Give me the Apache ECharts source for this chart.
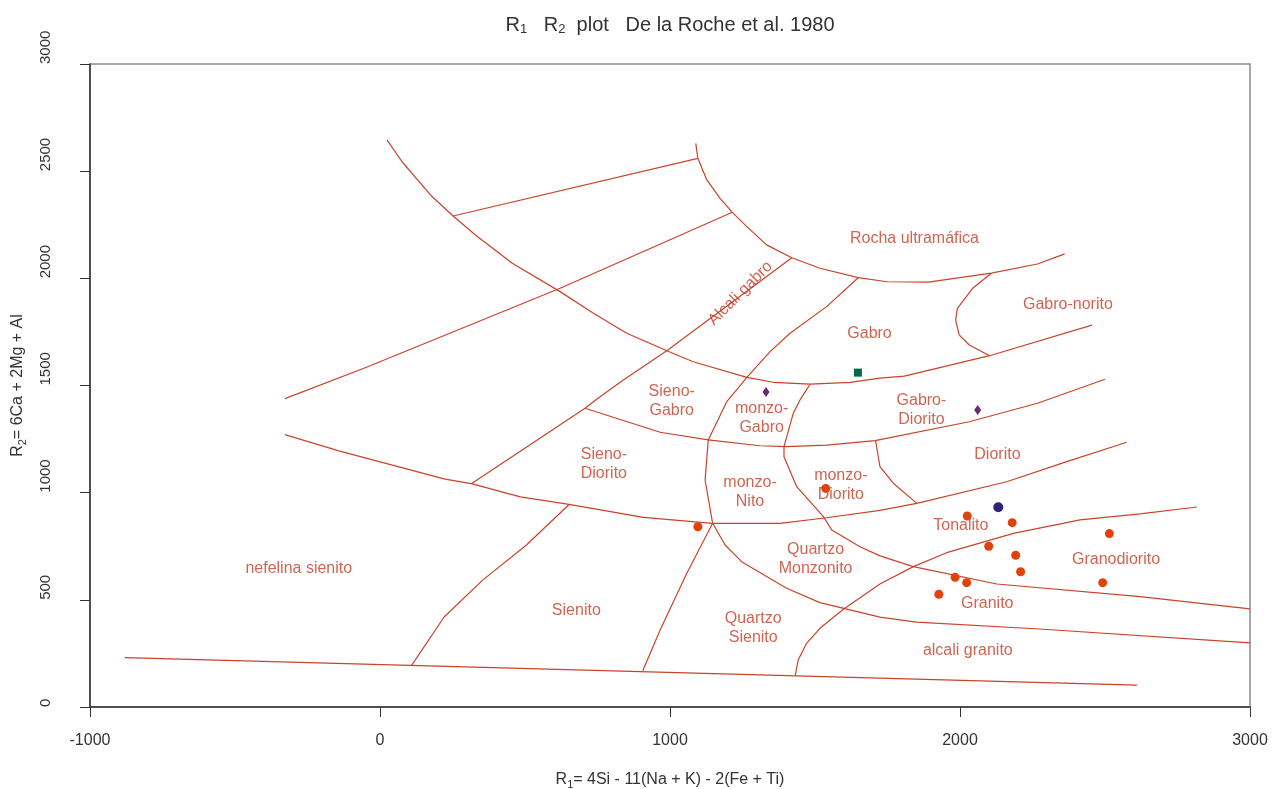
<!DOCTYPE html>
<html>
<head>
<meta charset="utf-8">
<script src="https://cdn.jsdelivr.net/npm/echarts@6/dist/echarts.min.js"></script>
<style>
html,body{margin:0;padding:0;background:#fff;}
#chart{width:1272px;height:789px;}
</style>
</head>
<body>
<div id="chart"></div>
<script>
// ---- axis ticks ----
const xTicks = [-1000, 0, 1000, 2000, 3000];
const yTicks = [0, 500, 1000, 1500, 2000, 2500, 3000];

// ---- field boundaries (R1, R2) ----
const lineA = [[-880,230],[2610,102]];
const lineB = [[108,192],[221,420],[355,593],[505,756],[652,945]];
const lineC = [[-328,1271],[-142,1195],[224,1063],[315,1042],[484,980],[652,945],[908,885],[1147,857],[1379,857],[1540,883],[1724,917],[1851,950],[2161,1051],[2368,1145],[2575,1235]];
const lineD = [[-328,1439],[-51,1583],[621,1954],[1215,2308]];
const lineE = [[252,2291],[1096,2560]];
const lineF = [[24,2646],[76,2544],[174,2389],[252,2291],[329,2202],[456,2070],[621,1938],[736,1837],[851,1744],[989,1662],[1080,1611],[1265,1538],[1356,1515],[1483,1506],[1621,1515],[1724,1534],[1808,1544],[2102,1639],[2455,1782]];
const lineR = [[1089,2630],[1096,2560],[1127,2459],[1172,2374],[1215,2308],[1265,2241],[1333,2156],[1420,2096],[1517,2047],[1649,2003],[1749,1984],[1891,1982],[2108,2024],[2267,2067],[2361,2114]];
const lineG = [[315,1042],[707,1394],[747,1436],[839,1526],[989,1662],[1420,2096]];
const lineSG = [[707,1394],[966,1282],[1132,1246],[1310,1219],[1402,1215],[1540,1222],[1707,1243],[2032,1331],[2267,1417],[2500,1529]];
const lineH = [[1649,2003],[1540,1868],[1414,1744],[1345,1658],[1265,1538],[1196,1425],[1132,1246],[1121,1059],[1147,857],[1058,624],[966,359],[906,169]];
const lineI = [[2108,2024],[2044,1954],[1991,1860],[1985,1806],[1997,1736],[2032,1689],[2102,1639]];
const lineK = [[1709,1241],[1724,1121],[1770,1044],[1851,950]];
const lineL = [[1483,1506],[1448,1432],[1425,1370],[1393,1215],[1393,1168],[1437,1028],[1529,888],[1558,826],[1655,748],[1724,705],[1839,655],[2127,574],[2621,515],[3000,458]];
const lineM = [[1147,857],[1190,756],[1247,678],[1402,554],[1517,487],[1724,419],[1850,396],[2274,364],[3000,299]];
const lineN = [[2817,933],[2621,901],[2414,873],[2184,810],[1954,720],[1839,655],[1724,574],[1598,456],[1517,367],[1471,297],[1442,219],[1432,149]];

// ---- samples ----
const orangeSamples = [[1537,1020],[1096,841],[2025,891],[2180,860],[2515,809],[2099,750],[2192,708],[2209,631],[1983,605],[2023,580],[2492,580],[1927,526]];
const navySamples = [[2132,932]];
const purpleSamples = [[1331,1470],[2061,1386]];
const greenSamples = [[1648,1560]];

// ---- field names ----
const fieldLabels = [
  [1843,2187,'Rocha ultramáfica'],
  [2372,1876,'Gabro-norito'],
  [1688,1744,'Gabro'],
  [1006,1429,'Sieno-\nGabro'],
  [1316,1347,'monzo-\nGabro'],
  [1867,1383,'Gabro-\nDiorito'],
  [2129,1176,'Diorito'],
  [772,1134,'Sieno-\nDiorito'],
  [1276,1005,'monzo-\nNito'],
  [1589,1033,'monzo-\nDiorito'],
  [2003,846,'Tonalito'],
  [1502,691,'Quartzo\nMonzonito'],
  [2538,689,'Granodiorito'],
  [2094,484,'Granito'],
  [1287,370,'Quartzo\nSienito'],
  [2027,263,'alcali granito'],
  [677,450,'Sienito'],
  [-280,648,'nefelina sienito']
];
const rotatedLabels = [[1243,1930,'Alcali gabro']];

const LINE_COLOR = '#c8432b';
const TEXT_RED = '#c23d25';
const FONT = 'Liberation Sans, Arial, sans-serif';

const boundaries = [lineA,lineB,lineC,lineD,lineE,lineF,lineR,lineG,lineSG,lineH,lineI,lineK,lineL,lineM,lineN];

const series = boundaries.map(function(d){
  return {
    type:'line', data:d, showSymbol:false, symbol:'none', smooth:false,
    lineStyle:{color:LINE_COLOR, width:1.2}, z:2, silent:true
  };
});

series.push({
  type:'scatter', data:fieldLabels, symbolSize:1, itemStyle:{color:'rgba(0,0,0,0)'}, z:3, silent:true,
  label:{show:true, position:'inside', formatter:function(p){return p.value[2];},
    color:TEXT_RED, fontSize:16, lineHeight:19, align:'center', fontFamily:FONT}
});
series.push({
  type:'scatter', data:rotatedLabels, symbolSize:1, itemStyle:{color:'rgba(0,0,0,0)'}, z:3, silent:true,
  label:{show:true, position:'inside', rotate:45, formatter:function(p){return p.value[2];},
    color:TEXT_RED, fontSize:16, align:'center', fontFamily:FONT}
});
series.push({type:'scatter', data:orangeSamples, symbol:'circle', symbolSize:9, itemStyle:{color:'#e0420c', opacity:1}, z:5});
series.push({type:'scatter', data:navySamples, symbol:'circle', symbolSize:10, itemStyle:{color:'#2f2277', opacity:1}, z:5});
series.push({type:'scatter', data:purpleSamples, symbol:'diamond', symbolSize:[7,10], itemStyle:{color:'#6b2a78', opacity:1}, z:5});
series.push({type:'scatter', data:greenSamples, symbol:'rect', symbolSize:8, itemStyle:{color:'#006b45', opacity:1}, z:5});

const plain = function(v){ return String(v); };

const chart = echarts.init(document.getElementById('chart'));
chart.setOption({
  animation:false,
  backgroundColor:'#fff',
  textStyle:{fontFamily:FONT},
  title:{
    text:'{a|R}{s|1}{a|   R}{s|2}{a|  plot   De la Roche et al. 1980}',
    left:665, top:9, textAlign:'center',
    textStyle:{fontWeight:'normal', rich:{
      a:{fontSize:20, color:'#333', fontWeight:'normal', fontFamily:FONT},
      s:{fontSize:13, color:'#333', fontWeight:'normal', padding:[9,0,0,0], fontFamily:FONT}
    }}
  },
  grid:{left:90, right:22, top:64, bottom:82, show:true, borderColor:'#8a8a8a', borderWidth:1.5,
        containLabel:false, outerBoundsMode:'none'},
  xAxis:{
    type:'value', min:xTicks[0], max:xTicks[xTicks.length-1], interval:1000,
    name:'{a|R}{s|1}{a|= 4Si - 11(Na + K) - 2(Fe + Ti)}',
    nameLocation:'middle', nameGap:63,
    nameTextStyle:{rich:{
      a:{fontSize:16, color:'#333'},
      s:{fontSize:11, color:'#333', padding:[9,0,0,0]}
    }},
    axisLine:{show:true, onZero:false, lineStyle:{color:'#333', width:1.5}},
    axisTick:{show:true, length:10, lineStyle:{color:'#333'}},
    axisLabel:{fontSize:16, color:'#333', margin:26, formatter:plain},
    splitLine:{show:false}
  },
  yAxis:{
    type:'value', min:yTicks[0], max:yTicks[yTicks.length-1], interval:500,
    name:'{a|R}{s|2}{a|= 6Ca + 2Mg + Al}',
    nameLocation:'middle', nameGap:62,
    nameTextStyle:{rich:{
      a:{fontSize:16, color:'#333'},
      s:{fontSize:11, color:'#333', padding:[9,0,0,0]}
    }},
    axisLine:{show:true, onZero:false, lineStyle:{color:'#333', width:1.5}},
    axisTick:{show:true, length:10, lineStyle:{color:'#333'}},
    axisLabel:{fontSize:15, color:'#333', rotate:90, align:'left', verticalAlign:'middle', margin:44, formatter:plain},
    splitLine:{show:false}
  },
  series:series
});
</script>
</body>
</html>
